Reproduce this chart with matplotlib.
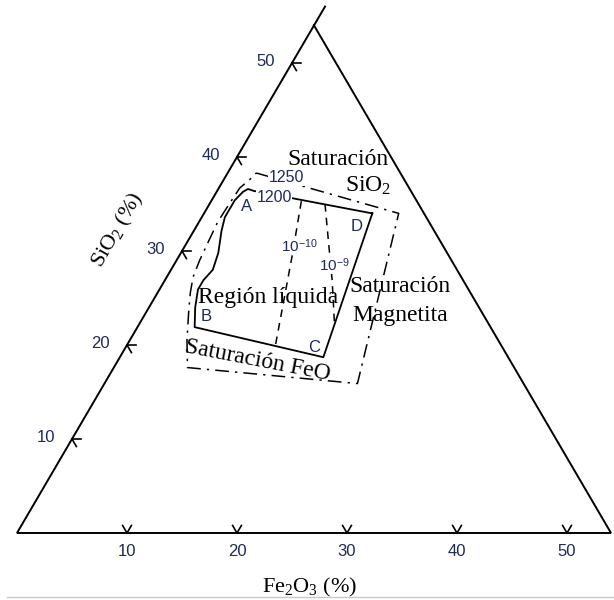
import numpy as np
import matplotlib.pyplot as plt

plt.rcParams['mathtext.fontset'] = 'custom'
plt.rcParams['mathtext.rm'] = 'Liberation Serif'
plt.rcParams['mathtext.sf'] = 'Liberation Sans'
plt.rcParams['mathtext.it'] = 'Liberation Serif:italic'

# --- datos (Fe2O3 %, SiO2 %) ---
borde_fe = [0, 0, 54, 0]
borde_si = [56, 0, 0, 54]

ticks_fe = [10, 20, 30, 40, 50]
ticks_si = [10, 20, 30, 40, 50]

# isoterma 1200 (región líquida A-B-C-D)
liq_fe = [15.3, 3.3, 2.7, 2.4, 2.1, 2.1, 2.5, 3.4, 3.8, 3.5, 3.5, 4.2, 5.2, 18.5, 15.3]
liq_si = [34.0, 36.4, 36.6, 36.3, 35.4, 33.6, 32.2, 29.8, 28.0, 26.9, 25.9, 24.0, 21.9, 18.7, 34.0]

# isoterma 1250
sat_fe = [2.6, 17.7, 23.0, 6.7, 5.2, 3.9, 3.0, 2.4, 2.1, 1.9, 1.7, 1.8, 1.9, 2.4, 2.6]
sat_si = [38.3, 34.0, 15.9, 17.6, 20.5, 23.4, 25.5, 27.2, 29.0, 31.0, 33.1, 35.1, 36.7, 37.7, 38.3]

# isobaras de oxígeno
p10_fe = [8.2, 10.3, 13.5]
p10_si = [35.3, 29.4, 20.0]
p9_fe = [10.5, 12.7, 15.2, 17.6]
p9_si = [35.0, 31.2, 26.9, 22.5]


def tern(f, s):
    f = np.asarray(f, dtype=float)
    s = np.asarray(s, dtype=float)
    return f + s / 2, s


def at(px, py):
    # posición de textos en píxeles de la figura -> coordenadas de datos
    return (px - 17) / 11, (533 - py) / 9.4


fig = plt.figure(figsize=(6.14, 6.0), dpi=100)
ax = fig.add_axes([0, 0, 1, 1])
ax.set_xlim(-17 / 11, 597 / 11)
ax.set_ylim(-67 / 9.4, 533 / 9.4)
ax.axis('off')

azul = '#1e2b58'
serif = 'Liberation Serif'
sans = 'Liberation Sans'

# triángulo
x, y = tern(borde_fe, borde_si)
ax.plot(x, y, color='black', lw=1.4, solid_joinstyle='miter')

# ticks
L = 0.8
for v in ticks_fe:
    x0, y0 = tern(v, 0)
    for x1, y1 in [tern(v - L, L), tern(v, L)]:
        ax.plot([x0, x1], [y0, y1], color='black', lw=1.2)
    ax.text(x0, y0 - 2.0, str(v), ha='center', va='center', fontsize=12,
            color=azul, family=sans)
for v in ticks_si:
    x0, y0 = tern(0, v)
    for x1, y1 in [tern(L, v), tern(L, v - L)]:
        ax.plot([x0, x1], [y0, y1], color='black', lw=1.2)
    ax.text(x0 - 2.4, y0 + 0.2, str(v), ha='center', va='center', fontsize=12,
            color=azul, family=sans)

# curvas
x, y = tern(sat_fe, sat_si)
ax.plot(x, y, color='black', lw=1.1, linestyle=(0, (9, 4, 1.5, 4)))
x, y = tern(liq_fe, liq_si)
ax.plot(x, y, color='black', lw=1.3)
x, y = tern(p10_fe, p10_si)
ax.plot(x, y, color='black', lw=1.1, linestyle=(0, (5, 4)))
x, y = tern(p9_fe, p9_si)
ax.plot(x, y, color='black', lw=1.1, linestyle=(0, (5, 4)))

caja = dict(facecolor='white', edgecolor='none', pad=0.3)

# etiquetas internas
ax.text(*at(286, 178), '1250', ha='center', va='center', fontsize=11.5, color=azul,
        family=sans, bbox=caja)
ax.text(*at(274, 198), '1200', ha='center', va='center', fontsize=11.5, color=azul,
        family=sans, bbox=caja)
ax.text(*at(299, 246), r'10$^{\mathsf{-10}}$', ha='center', va='center', fontsize=11,
        color=azul, family=sans, bbox=caja)
ax.text(*at(334, 265), r'10$^{\mathsf{-9}}$', ha='center', va='center', fontsize=11,
        color=azul, family=sans, bbox=caja)
for letra, px, py in [('A', 247, 207), ('B', 206, 317), ('C', 314, 348), ('D', 357, 227)]:
    ax.text(*at(px, py), letra, ha='center', va='center', fontsize=12, color=azul,
            family=sans)

ax.text(*at(338, 160), 'Saturación', ha='center', va='center', fontsize=17, family=serif)
ax.text(*at(368, 186), 'SiO$_2$', ha='center', va='center', fontsize=17, family=serif)
ax.text(*at(400, 287), 'Saturación', ha='center', va='center', fontsize=17, family=serif)
ax.text(*at(400, 316), 'Magnetita', ha='center', va='center', fontsize=17, family=serif)
ax.text(*at(268, 298), 'Región líquida', ha='center', va='center', fontsize=17, family=serif)
ax.text(*at(258, 361), 'Saturación FeO', ha='center', va='center', fontsize=17,
        family=serif, rotation=-11, rotation_mode='anchor')

# títulos de ejes
ax.text(*at(118, 230), 'SiO$_2$ (%)', ha='center', va='center', fontsize=16,
        family=serif, rotation=60, rotation_mode='anchor')
ax.text(*at(310, 587), 'Fe$_2$O$_3$ (%)', ha='center', va='center', fontsize=16,
        family=serif)

# línea gris inferior
ax.plot([at(7, 597)[0], at(614, 597)[0]], [at(7, 597)[1]] * 2, color='#c8c8c8', lw=1.0)

fig.savefig('out.png', dpi=100)
